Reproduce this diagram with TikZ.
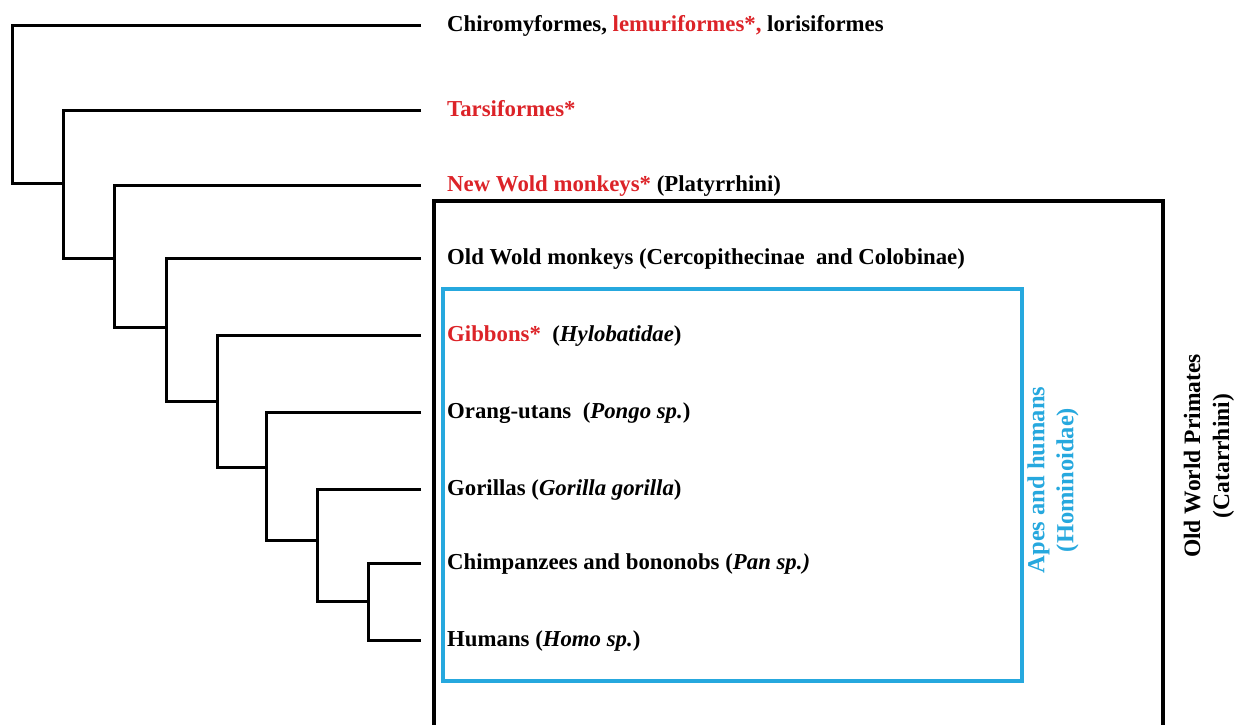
\documentclass[tikz,border=0pt]{standalone}
\usepackage{fontspec}
\setmainfont{Liberation Serif}
\definecolor{taxred}{RGB}{220,35,40}
\definecolor{cladeblue}{RGB}{38,168,222}
\begin{document}
\begin{tikzpicture}[x=1pt,y=-1pt,
  branch/.style={line width=3pt,line join=miter},
  leaflabel/.style={anchor=base west,inner sep=0pt,font=\fontsize{22.8}{26}\selectfont\bfseries},
  outerlabel/.style={rotate=90,align=center,inner sep=0pt,font=\fontsize{23.5}{29}\selectfont\bfseries},
  apeslabel/.style={rotate=90,align=center,inner sep=0pt,font=\fontsize{24.5}{29}\selectfont\bfseries},
  outerbox/.style={line width=4pt,black},
  innerbox/.style={line width=4pt,cladeblue}]
\useasboundingbox (0,0) rectangle (1246,724);
% leaf ends
\coordinate (l1) at (421,25);
\coordinate (l2) at (421,110);
\coordinate (l3) at (421,185);
\coordinate (l4) at (421,258);
\coordinate (l5) at (421,335);
\coordinate (l6) at (421,412);
\coordinate (l7) at (421,489);
\coordinate (l8) at (421,563);
\coordinate (l9) at (421,640);
% internal nodes
\coordinate (n1) at (12,183);
\coordinate (n2) at (63,183);
\coordinate (n3) at (114,258);
\coordinate (n4) at (166,327);
\coordinate (n5) at (217,401);
\coordinate (n6) at (266,467);
\coordinate (n7) at (317,540);
\coordinate (n8) at (368,601);
% branches
\draw[branch] (l1) -| (n1) |- (n2);
\draw[branch] (l2) -| (n2) |- (n3);
\draw[branch] (l3) -| (n3) |- (n4);
\draw[branch] (l4) -| (n4) |- (n5);
\draw[branch] (l5) -| (n5) |- (n6);
\draw[branch] (l6) -| (n6) |- (n7);
\draw[branch] (l7) -| (n7) |- (n8);
\draw[branch] (l8) -| (n8) |- (l9);
% labels
\node[leaflabel] (t1) at (447,31) {Chiromyformes, \textcolor{taxred}{lemuriformes*,} lorisiformes};
\node[leaflabel] (t2) at (447,116) {\textcolor{taxred}{Tarsiformes*}};
\node[leaflabel] (t3) at (447,191) {\textcolor{taxred}{New Wold monkeys*} (Platyrrhini)};
\node[leaflabel] (t4) at (447,264) {Old Wold monkeys (Cercopithecinae\ \ and Colobinae)};
\node[leaflabel] (t5) at (447,341) {\textcolor{taxred}{Gibbons*}\ \ (\textit{Hylobatidae})};
\node[leaflabel] (t6) at (447,418) {Orang-utans\ \ (\textit{Pongo sp.})};
\node[leaflabel] (t7) at (447,495) {Gorillas (\textit{Gorilla gorilla})};
\node[leaflabel] (t8) at (447,569) {Chimpanzees and bononobs (\textit{Pan sp.)}};
\node[leaflabel] (t9) at (447,646) {Humans (\textit{Homo sp.})};
% clade boxes
\draw[outerbox] (434,730) -- (434,201) -- (1163,201) -- (1163,730);
\draw[innerbox] (443,289) rectangle (1022,681);
\node[apeslabel,text=cladeblue] (apes) at (1053,480) {Apes and humans\\(Hominoidae)};
\node[outerlabel] (owp) at (1209,456) {Old World Primates\\(Catarrhini)};
\end{tikzpicture}
\end{document}
